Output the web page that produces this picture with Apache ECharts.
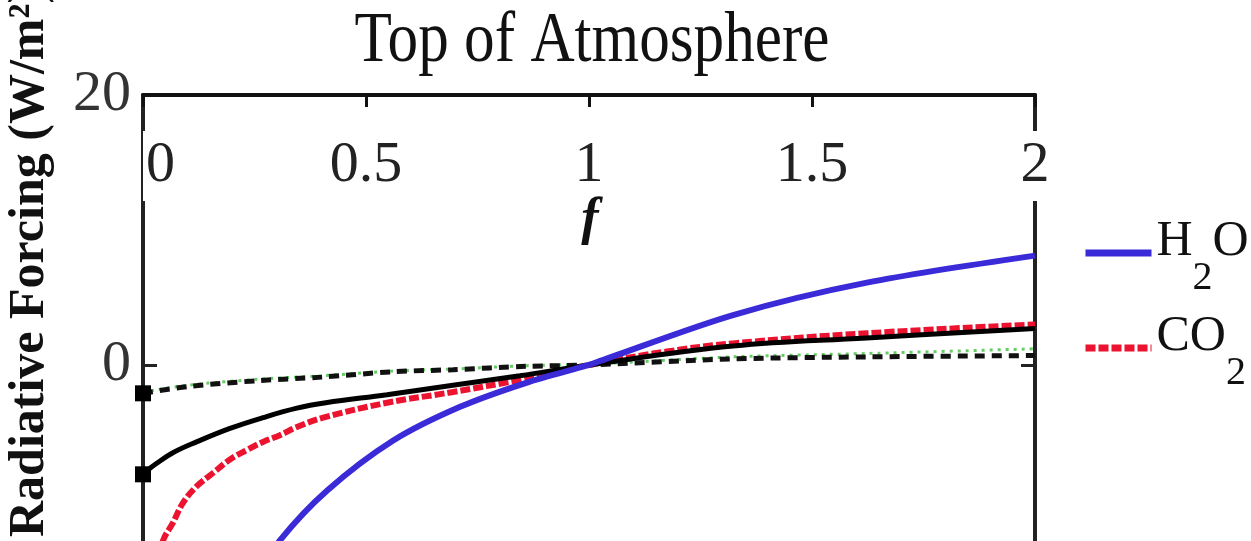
<!DOCTYPE html>
<html>
<head>
<meta charset="utf-8">
<title>Top of Atmosphere</title>
<script src="https://cdn.jsdelivr.net/npm/echarts@6.0.0/dist/echarts.min.js"></script>
<style>
  html, body { margin: 0; padding: 0; background: #fff; }
  #chart { width: 1251px; height: 541px; }
</style>
</head>
<body>
<div id="chart"></div>
<script>
// 刻度
var xTicks = [0, 0.5, 1, 1.5, 2];
var yTicks = [0, 20];

// H2O (blue)
var h2oF = [0.25, 0.307, 0.413, 0.561, 0.711, 0.861, 1.0, 1.025, 1.323, 1.623, 2.0];
var h2oRF = [-16, -13, -9.3, -5.6, -3.1, -1.3, 0, 0.3, 3.7, 6.1, 8.1];
// CO2 (red dash)
var co2F = [0.03, 0.045, 0.067, 0.09, 0.12, 0.157, 0.195, 0.233, 0.269, 0.307, 0.345, 0.404, 0.547, 0.695, 0.845, 1.0, 1.175, 1.323, 1.623, 2.0];
var co2RF = [-15, -13, -11.7, -10.2, -9.0, -8.0, -7.0, -6.3, -5.7, -5.2, -4.6, -3.9, -2.8, -2.0, -1.1, 0, 1.0, 1.6, 2.35, 3.0];
// black solid
var solidF = [0, 0.01, 0.03, 0.067, 0.12, 0.195, 0.269, 0.345, 0.41, 0.547, 0.695, 0.845, 1.0, 1.323, 1.623, 2.0];
var solidRF = [-8.1, -7.8, -7.3, -6.5, -5.7, -4.7, -3.9, -3.2, -2.8, -2.2, -1.5, -0.8, 0, 1.4, 2.0, 2.7];
// black dashed
var dashF = [0, 0.1, 0.262, 0.4, 0.561, 0.695, 0.86, 1.0, 1.323, 1.623, 2.0];
var dashRF = [-2.1, -1.6, -1.15, -0.9, -0.5, -0.35, -0.1, 0, 0.45, 0.6, 0.7];
// green dotted
var dotF = [0, 0.1, 0.262, 0.4, 0.561, 0.695, 0.86, 1.0, 1.323, 1.623, 2.0];
var dotRF = [-2.0, -1.5, -1.05, -0.8, -0.45, -0.3, -0.05, 0.05, 0.6, 0.85, 1.2];

var serif = '"Liberation Serif", "Times New Roman", serif';

function pairs(xs, ys, firstSquare) {
  return xs.map(function (x, i) {
    var item = { value: [x, ys[i]] };
    if (firstSquare) item.symbol = i === 0 ? 'rect' : 'none';
    return item;
  });
}

var chart = echarts.init(document.getElementById('chart'));

var option = {
  backgroundColor: '#fff',
  animation: false,
  graphic: [{
    type: 'text',
    x: 592,
    y: 42,
    scaleX: 0.85,
    style: {
      text: 'Top of Atmosphere',
      fontSize: 72,
      fontFamily: serif,
      fill: '#111',
      textAlign: 'center',
      textVerticalAlign: 'middle'
    }
  }, {
    // x 轴名称 f，要压在刻度标签的白底上面
    type: 'text',
    x: 590,
    y: 221,
    z: 20,
    style: {
      text: 'f',
      fontSize: 52,
      fontStyle: 'italic',
      fontWeight: 'bold',
      fontFamily: serif,
      fill: '#111',
      textAlign: 'center',
      textVerticalAlign: 'middle'
    }
  }, {
    type: 'text',
    x: 30,
    y: 537,
    rotation: Math.PI / 2,
    style: {
      text: 'Radiative Forcing (W/m²)',
      fontSize: 50,
      fontWeight: 'bold',
      fontFamily: serif,
      fill: '#111',
      textAlign: 'left',
      textVerticalAlign: 'middle'
    }
  }],
  legend: {
    orient: 'vertical',
    left: 1082,
    top: 217,
    padding: 0,
    itemGap: 14,
    itemWidth: 66,
    itemHeight: 8,
    data: ['H2O', 'CO2'],
    itemStyle: { opacity: 0 },
    lineStyle: { width: 7 },
    formatter: function (name) {
      return name === 'H2O' ? '{a|H}{s|2}{a|O}' : '{a|CO}{s|2}';
    },
    textStyle: {
      rich: {
        a: { fontSize: 50, fontFamily: serif, color: '#111', padding: [0, 0, 22, 0] },
        s: { fontSize: 40, fontFamily: serif, color: '#111', padding: [50, 0, 0, 0] }
      }
    }
  },
  grid: { left: 143, right: 216, top: 95, bottom: 0, containLabel: false, outerBoundsMode: 'none' },
  xAxis: {
    type: 'value',
    position: 'top',
    min: 0,
    max: 2,
    interval: 0.5,
    z: 3,
    axisLine: { onZero: false, lineStyle: { color: '#111', width: 4 } },
    axisTick: { inside: true, length: 12, lineStyle: { color: '#111', width: 3 } },
    axisLabel: {
      inside: true,
      margin: 36,
      fontSize: 58,
      fontFamily: serif,
      color: '#222',
      backgroundColor: '#fff',
      padding: [6, 3],
      alignMinLabel: 'left',
      formatter: function (v) { return String(v); }
    },
    splitLine: { show: false }
  },
  yAxis: [{
    type: 'value',
    min: -13.04,
    max: 20,
    z: 2,
    axisLine: { show: true, onZero: false, lineStyle: { color: '#222', width: 4 } },
    axisTick: { show: true, inside: true, length: 14, customValues: [0], lineStyle: { color: '#222', width: 3 } },
    axisLabel: { customValues: yTicks, margin: 12, fontSize: 58, fontFamily: serif, color: '#333' },
    splitLine: { show: false }
  }, {
    type: 'value',
    position: 'right',
    min: -13.04,
    max: 20,
    z: 2,
    axisLine: { show: true, onZero: false, lineStyle: { color: '#222', width: 4 } },
    axisTick: { show: true, inside: true, length: 14, customValues: [0], lineStyle: { color: '#222', width: 3 } },
    axisLabel: { show: false },
    splitLine: { show: false }
  }],
  series: [{
    name: 'dotted',
    type: 'line',
    data: pairs(dotF, dotRF),
    smooth: 0.3,
    symbol: 'none',
    clip: false,
    lineStyle: { color: '#66cc66', width: 3, type: [3, 5] }
  }, {
    name: 'dashed',
    type: 'line',
    data: pairs(dashF, dashRF, true),
    smooth: 0.3,
    symbol: 'rect',
    symbolSize: 16,
    showAllSymbol: true,
    clip: false,
    itemStyle: { color: '#000' },
    lineStyle: { color: '#111', width: 5, type: [10, 7] }
  }, {
    name: 'CO2',
    type: 'line',
    data: pairs(co2F, co2RF),
    smooth: 0.4,
    symbol: 'none',
    clip: false,
    itemStyle: { color: '#ec1330' },
    lineStyle: { color: '#ec1330', width: 6, type: [10, 3] }
  }, {
    name: 'solid',
    type: 'line',
    data: pairs(solidF, solidRF, true),
    smooth: 0.4,
    symbol: 'rect',
    symbolSize: 16,
    showAllSymbol: true,
    clip: false,
    itemStyle: { color: '#000' },
    lineStyle: { color: '#000', width: 5 }
  }, {
    name: 'H2O',
    type: 'line',
    data: pairs(h2oF, h2oRF),
    smooth: 0.3,
    symbol: 'none',
    clip: false,
    itemStyle: { color: '#3a2ad8' },
    lineStyle: { color: '#3a2ad8', width: 6 }
  }]
};

chart.setOption(option);
</script>
</body>
</html>
